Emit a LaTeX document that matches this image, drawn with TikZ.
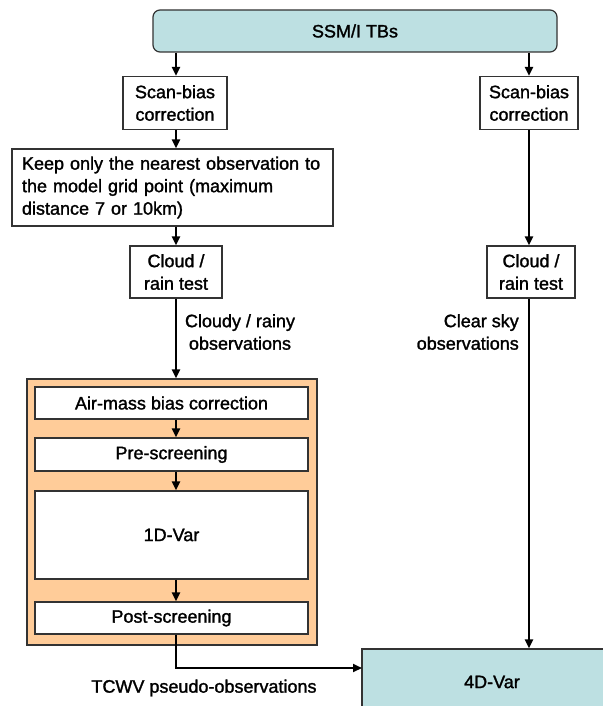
\documentclass[tikz,border=0pt]{standalone}
\usepackage{fontspec}
\setmainfont{Liberation Sans}[BoldFont={Liberation Sans}, BoldFeatures={FakeBold=1.5}]
\usetikzlibrary{arrows.meta}
\definecolor{tbblue}{RGB}{189,224,226}
\definecolor{peach}{RGB}{255,204,153}
\tikzset{
  box/.style={rectangle, draw=black!80, line width=1.2pt, fill=white, inner sep=0pt, align=center},
  flow/.style={->, line width=2pt},
  lbl/.style={inner sep=0pt, align=center}
}
\begin{document}
\begin{tikzpicture}[x=1pt, y=-1pt, >={Triangle[length=9pt,width=8pt]}, font=\fontsize{18}{22.5}\selectfont\bfseries]
\useasboundingbox (0,0) rectangle (602,706);
% boxes
\node (ssmi) at (355,31) [box, rounded corners=7pt, fill=tbblue, minimum width=404, minimum height=42] {SSM/I TBs};
\node (sbl) at (175,103) [box, minimum width=104, minimum height=53] {Scan-bias\\correction};
\node (sbr) at (529,103) [box, minimum width=98, minimum height=53] {Scan-bias\\correction};
\node (keep) at (172.5,187.5) [box, align=left, text width=301, minimum width=321, minimum height=77] {Keep only the nearest observation to\\the model grid point (maximum\\distance 7 or 10km)};
\node (cloudl) at (176,272) [box, minimum width=92, minimum height=52] {Cloud /\\rain test};
\node (cloudr) at (531,272) [box, minimum width=88, minimum height=52] {Cloud /\\rain test};
\node (grp) at (172,512) [box, fill=peach, minimum width=290, minimum height=266] {};
\node (air) at (171.5,403) [box, minimum width=273, minimum height=32] {Air-mass bias correction};
\node (pre) at (171.5,454.5) [box, minimum width=273, minimum height=33] {Pre-screening};
\node (oned) at (171.5,535) [box, minimum width=273, minimum height=88] {1D-Var};
\node (post) at (171.5,618) [box, minimum width=273, minimum height=32] {Post-screening};
\node (fourd) at (492,682) [box, fill=tbblue, minimum width=260, minimum height=66] {4D-Var};
\coordinate (tcwv) at (362,668);
% labels
\node (cloudylbl) at (240,332) [lbl] {Cloudy / rainy\\observations};
\node (clearlbl) at (519,332) [lbl, anchor=east, align=right] {Clear sky\\observations};
\node (tcwvlbl) at (204,688) [lbl] {TCWV pseudo-observations};
% connectors
\draw[flow] (ssmi.south -| 176,0) -- (176,0 |- sbl.north);
\draw[flow] (ssmi.south -| sbr) -- (sbr);
\draw[flow] (176,0 |- sbl.south) -- (176,0 |- keep.north);
\draw[flow] (keep.south -| cloudl) -- (cloudl);
\draw[flow] (cloudl) -- (cloudl |- grp.north);
\draw[flow] (sbr) -- (sbr |- cloudr.north);
\draw[flow] (sbr |- cloudr.south) -- (sbr |- fourd.north);
\draw[flow] (air.south -| 176,0) -- (176,0 |- pre.north);
\draw[flow] (pre.south -| 176,0) -- (176,0 |- oned.north);
\draw[flow] (oned.south -| 176,0) -- (176,0 |- post.north);
\draw[flow] (post.south -| 176,0) |- (tcwv);
\end{tikzpicture}
\end{document}
